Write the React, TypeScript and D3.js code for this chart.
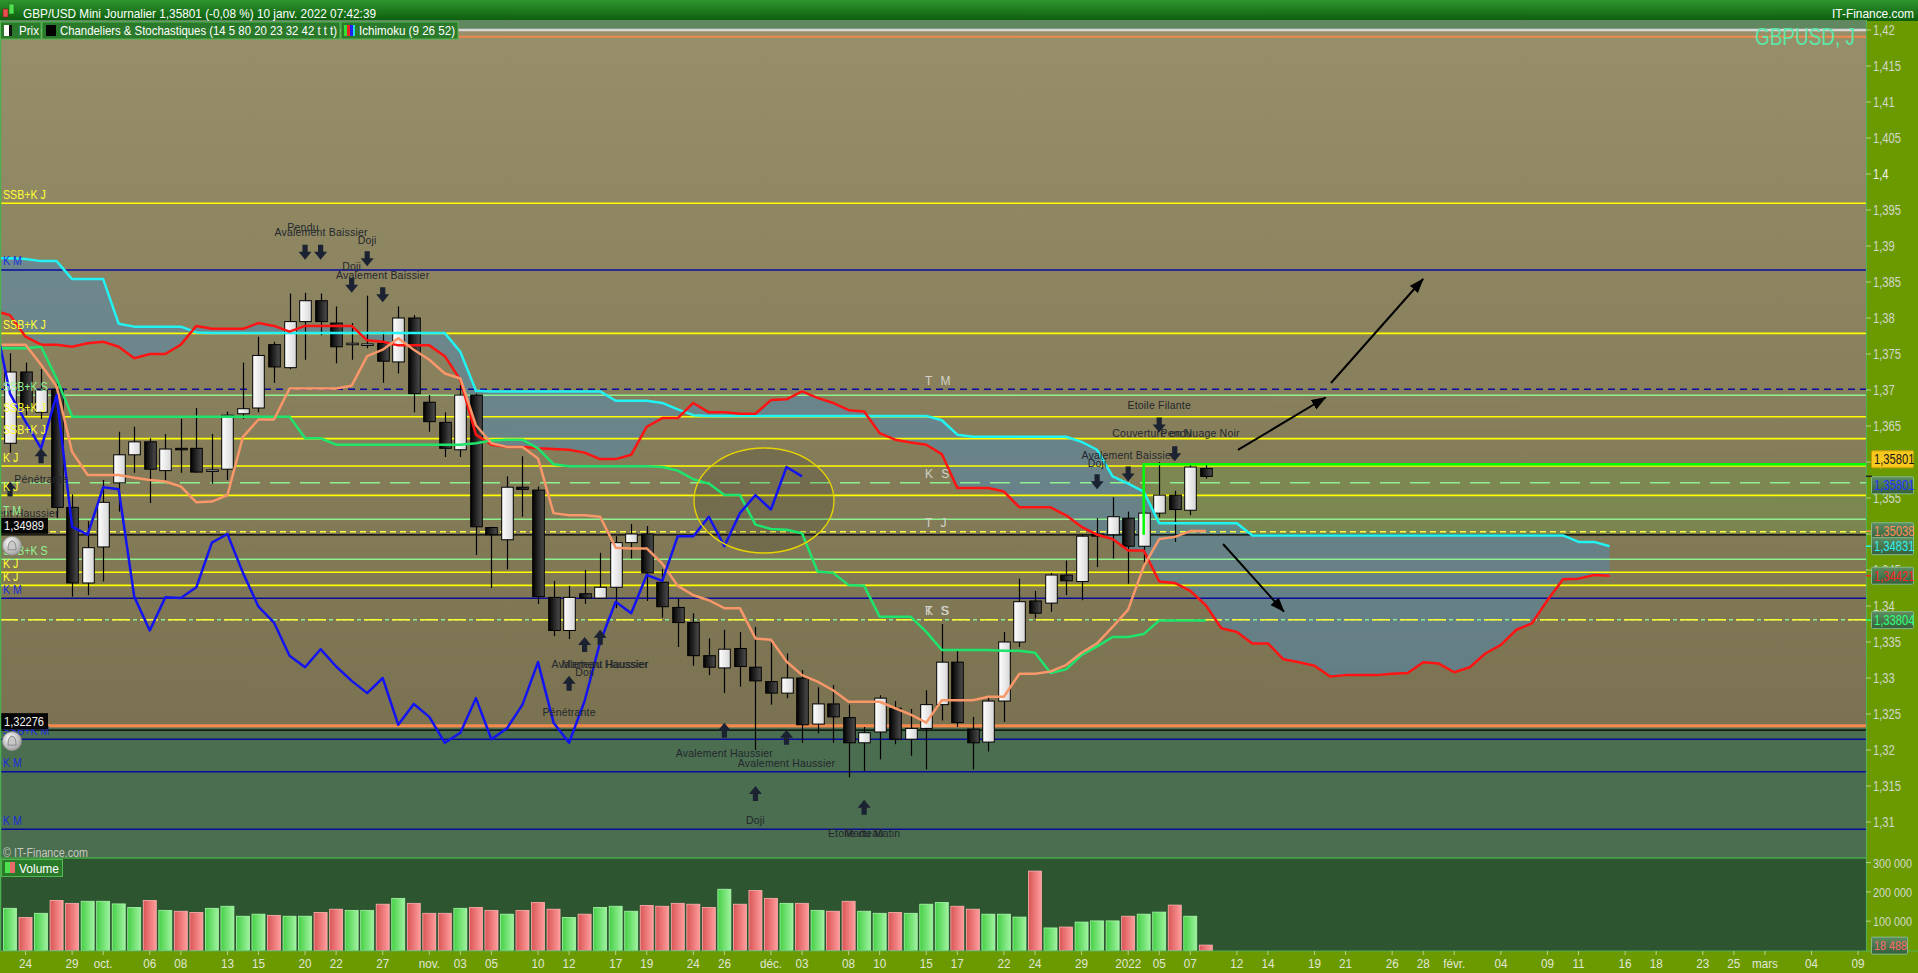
import React from 'react';
import * as d3 from 'd3';

// ---------------- DATA ----------------
// trading-day index 0 = 2021-09-23 ; last candle index 77 = 2022-01-10
const candleOpen = [1.3626,1.3725,1.3669,1.3701,1.3537,1.3432,1.3482,1.3571,1.3610,1.3628,
 1.3588,1.3619,1.3619,1.3587,1.3590,1.3667,1.3675,1.3763,1.3731,1.3795,
 1.3824,1.3793,1.3764,1.3762,1.3765,1.3739,1.3800,1.3683,1.3655,1.3617,
 1.3693,1.3509,1.3492,1.3565,1.3561,1.3412,1.3366,1.3417,1.3411,1.3426,
 1.3488,1.3500,1.3433,1.3398,1.3377,1.3331,1.3314,1.3341,1.3315,1.3295,
 1.3279,1.3300,1.3236,1.3264,1.3245,1.3210,1.3225,1.3258,1.3215,1.3230,
 1.3263,1.3322,1.3229,1.3211,1.3268,1.3350,1.3407,1.3404,1.3443,1.3434,
 1.3500,1.3499,1.3522,1.3483,1.3529,1.3554,1.3533,1.3591];
const candleHigh = [1.3751,1.3738,1.3729,1.3714,1.3555,1.3518,1.3575,1.3642,1.3649,1.3633,
 1.3639,1.3660,1.3675,1.3639,1.3670,1.3738,1.3774,1.3767,1.3834,1.3835,
 1.3834,1.3816,1.3793,1.3831,1.3781,1.3816,1.3804,1.3693,1.3669,1.3707,
 1.3695,1.3510,1.3580,1.3608,1.3566,1.3435,1.3428,1.3450,1.3474,1.3497,
 1.3514,1.3511,1.3451,1.3411,1.3390,1.3355,1.3367,1.3364,1.3371,1.3352,
 1.3334,1.3311,1.3287,1.3290,1.3263,1.3232,1.3276,1.3268,1.3257,1.3283,
 1.3375,1.3340,1.3246,1.3275,1.3364,1.3438,1.3421,1.3446,1.3463,1.3500,
 1.3522,1.3551,1.3531,1.3533,1.3600,1.3560,1.3596,1.3596];
const candleLow = [1.3613,1.3665,1.3660,1.3522,1.3413,1.3415,1.3434,1.3531,1.3585,1.3543,
 1.3573,1.3585,1.3585,1.3570,1.3575,1.3660,1.3669,1.3710,1.3729,1.3742,
 1.3776,1.3737,1.3742,1.3758,1.3710,1.3723,1.3669,1.3642,1.3607,1.3607,
 1.3471,1.3425,1.3451,1.3524,1.3403,1.3358,1.3354,1.3403,1.3410,1.3397,
 1.3466,1.3407,1.3384,1.3343,1.3317,1.3304,1.3279,1.3288,1.3200,1.3263,
 1.3272,1.3210,1.3223,1.3210,1.3162,1.3171,1.3187,1.3208,1.3192,1.3173,
 1.3241,1.3232,1.3173,1.3198,1.3239,1.3343,1.3383,1.3392,1.3415,1.3408,
 1.3454,1.3466,1.3431,1.3460,1.3523,1.3489,1.3526,1.3577];
const candleClose = [1.3725,1.3675,1.3700,1.3537,1.3432,1.3481,1.3544,1.3610,1.3628,1.3590,
 1.3618,1.3617,1.3586,1.3589,1.3665,1.3674,1.3748,1.3732,1.3795,1.3824,
 1.3795,1.3760,1.3765,1.3764,1.3740,1.3800,1.3695,1.3656,1.3619,1.3693,
 1.3510,1.3499,1.3565,1.3562,1.3413,1.3366,1.3412,1.3411,1.3426,1.3488,
 1.3500,1.3446,1.3399,1.3377,1.3331,1.3315,1.3340,1.3316,1.3296,1.3279,
 1.3300,1.3235,1.3264,1.3246,1.3210,1.3224,1.3272,1.3215,1.3230,1.3263,
 1.3322,1.3238,1.3210,1.3268,1.3350,1.3406,1.3390,1.3443,1.3435,1.3497,
 1.3497,1.3524,1.3483,1.3529,1.3554,1.3534,1.3593,1.3580];
const volumes = [144000,113000,127000,171000,161000,168000,168000,159000,147000,171000,
 137000,134000,130000,144000,151000,117000,124000,120000,117000,117000,
 130000,141000,137000,137000,158000,178000,161000,127000,127000,144000,
 147000,137000,124000,137000,164000,141000,113000,124000,147000,151000,
 134000,154000,151000,161000,158000,147000,209000,158000,205000,178000,
 161000,161000,137000,134000,168000,134000,127000,130000,127000,158000,
 164000,151000,141000,124000,124000,114000,271000,77000,80000,97000,
 101000,101000,117000,124000,131000,155000,117000,18488];
const volumeUp = [1,0,1,0,0,1,1,1,1,0,
 1,0,0,1,1,1,1,0,1,1,
 0,0,1,1,0,1,0,0,0,1,
 0,0,1,0,0,0,1,0,1,1,
 1,0,0,0,0,0,1,0,0,0,
 1,0,1,0,0,1,1,0,1,1,
 1,0,0,1,1,1,0,1,0,1,
 1,1,0,1,1,0,1,0];
// Ichimoku lines, first value at index -1
const tenkan = [1.3763,1.3763,1.3763,1.3735,1.3705,1.3614,1.3582,1.3582,1.3582,1.3578,
 1.3575,1.3573,1.3566,1.3544,1.3545,1.3554,1.3635,1.3659,1.3659,1.3702,
 1.3702,1.3702,1.3702,1.3706,1.3747,1.3756,1.3772,1.3756,1.3742,1.3723,
 1.3716,1.3651,1.3626,1.3621,1.3621,1.3605,1.3529,1.3526,1.3526,1.3524,
 1.3481,1.3480,1.3480,1.3459,1.3428,1.3415,1.3408,1.3397,1.3397,1.3355,
 1.3353,1.3323,1.3304,1.3295,1.3283,1.3267,1.3267,1.3267,1.3258,1.3249,
 1.3238,1.3269,1.3269,1.3269,1.3274,1.3274,1.3306,1.3306,1.3309,1.3318,
 1.3335,1.3348,1.3371,1.3395,1.3455,1.3493,1.3496,1.3504,1.3504];
const kijun = [1.3758,1.3758,1.3758,1.3760,1.3716,1.3663,1.3663,1.3663,1.3663,1.3663,
 1.3663,1.3663,1.3663,1.3663,1.3663,1.3663,1.3663,1.3663,1.3663,1.3663,
 1.3633,1.3633,1.3624,1.3624,1.3624,1.3624,1.3624,1.3624,1.3624,1.3624,
 1.3624,1.3626,1.3630,1.3631,1.3631,1.3619,1.3597,1.3594,1.3594,1.3594,
 1.3594,1.3594,1.3594,1.3593,1.3588,1.3576,1.3570,1.3554,1.3554,1.3513,
 1.3507,1.3506,1.3501,1.3448,1.3446,1.3429,1.3428,1.3385,1.3385,1.3385,
 1.3364,1.3339,1.3339,1.3339,1.3339,1.3338,1.3338,1.3335,1.3307,1.3312,
 1.3332,1.3344,1.3357,1.3357,1.3361,1.3380,1.3380,1.3380,1.3380];
const senkouA = [1.3810,1.3804,1.3774,1.3763,1.3763,1.3760,1.3765,1.3767,1.3760,1.3744,
 1.3750,1.3750,1.3763,1.3789,1.3785,1.3785,1.3785,1.3793,1.3789,1.3781,
 1.3789,1.3789,1.3789,1.3789,1.3769,1.3767,1.3762,1.3762,1.3762,1.3747,
 1.3714,1.3638,1.3624,1.3621,1.3621,1.3619,1.3618,1.3617,1.3613,1.3604,
 1.3604,1.3610,1.3649,1.3661,1.3661,1.3682,1.3669,1.3669,1.3667,1.3667,
 1.3686,1.3687,1.3698,1.3689,1.3682,1.3672,1.3670,1.3640,1.3631,1.3627,
 1.3624,1.3611,1.3564,1.3564,1.3564,1.3559,1.3537,1.3537,1.3537,1.3526,
 1.3510,1.3499,1.3493,1.3477,1.3477,1.3434,1.3432,1.3421,1.3401,1.3369,
 1.3364,1.3348,1.3348,1.3326,1.3322,1.3317,1.3302,1.3304,1.3304,1.3304,
 1.3306,1.3307,1.3322,1.3320,1.3308,1.3315,1.3334,1.3346,1.3367,1.3376,
 1.3408,1.3437,1.3438,1.3443,1.3442];
const senkouB = [1.3883,1.3883,1.3882,1.3879,1.3879,1.3854,1.3854,1.3854,1.3792,1.3788,
 1.3788,1.3788,1.3788,1.3780,1.3779,1.3779,1.3779,1.3779,1.3779,1.3779,
 1.3779,1.3779,1.3779,1.3779,1.3779,1.3779,1.3779,1.3779,1.3779,1.3779,
 1.3753,1.3699,1.3698,1.3698,1.3698,1.3698,1.3698,1.3698,1.3698,1.3698,
 1.3685,1.3685,1.3685,1.3682,1.3673,1.3665,1.3664,1.3664,1.3664,1.3664,
 1.3664,1.3664,1.3664,1.3664,1.3664,1.3664,1.3664,1.3664,1.3664,1.3664,
 1.3664,1.3658,1.3638,1.3635,1.3635,1.3635,1.3635,1.3635,1.3635,1.3635,
 1.3628,1.3617,1.3580,1.3570,1.3559,1.3515,1.3515,1.3515,1.3515,1.3515,
 1.3515,1.3498,1.3498,1.3498,1.3498,1.3498,1.3498,1.3498,1.3498,1.3498,
 1.3498,1.3498,1.3498,1.3498,1.3498,1.3498,1.3498,1.3498,1.3498,1.3498,
 1.3498,1.3498,1.3489,1.3489,1.3483];

// horizontal levels
const levelPrices = [1.39593,1.38667,1.37787,1.3701,1.36926,1.36629,1.36324,1.35944,1.35713,1.35537,1.35204,1.35032,1.34989,1.34649,1.34468,1.34287,1.34107,1.3381,1.32338,1.32276,1.32149,1.31699,1.30899];
const levelKinds = ['Y','N','Y','Nd','G','Y','Y','Y','Gd','Y','G','Yd','B','G','Y','Y','N','K','O','B','N','N','N'];
const levelLeftLabels = ['SSB+K J','K M','SSB+K J','','SSB+K S','SSB+K J','SSB+K J','K J','','K J','T M','','','SSB+K S','K J','K J','K M','','','','SSB+K M','K M','K M'];
const levelMidLabels = ['','','','T M','','','','','K S','','','T J','','','','','','K S','','','','',''];
const levelTags = ['','','','','','','','','','','','','1,34989','','','','','','','1,32276','','',''];

// date axis
const tickDates = ['2021-09-24','2021-09-29','2021-10-01','2021-10-06','2021-10-08','2021-10-13','2021-10-15','2021-10-20','2021-10-22','2021-10-27','2021-11-01','2021-11-03','2021-11-05','2021-11-10','2021-11-12','2021-11-17','2021-11-19','2021-11-24','2021-11-26','2021-12-01','2021-12-03','2021-12-08','2021-12-10','2021-12-15','2021-12-17','2021-12-22','2021-12-24','2021-12-29','2022-01-03','2022-01-05','2022-01-07','2022-01-12','2022-01-14','2022-01-19','2022-01-21','2022-01-26','2022-01-28','2022-02-01','2022-02-04','2022-02-09','2022-02-11','2022-02-16','2022-02-18','2022-02-23','2022-02-25','2022-03-01','2022-03-04','2022-03-09'];
const tickLabels = ['24','29','oct.','06','08','13','15','20','22','27','nov.','03','05','10','12','17','19','24','26','déc.','03','08','10','15','17','22','24','29','2022','05','07','12','14','19','21','26','28','févr.','04','09','11','16','18','23','25','mars','04','09'];
const priceTicks = [1.42,1.415,1.41,1.405,1.4,1.395,1.39,1.385,1.38,1.375,1.37,1.365,1.36,1.355,1.35,1.345,1.34,1.335,1.33,1.325,1.32,1.315,1.31];
const volumeTicks = [100000,200000,300000];

// pattern annotations
const arrowIdx = [19,20,23,22,24,70,72,74,75,0,2,36,37,38,46,50,48,55];
const arrowDir = ['d','d','d','d','d','d','d','d','d','u','u','u','u','u','u','u','u','u'];
const arrowTip = [1.3881,1.3881,1.3872,1.3835,1.3822,1.3562,1.3573,1.3641,1.3601,1.3573,1.3619,1.3303,1.3357,1.3367,1.3238,1.3228,1.3150,1.3131];
const noteText = ['Pendu','Avalement Baissier','Doji','Doji','Avalement Baissier','Doji','Avalement Baissier','Etoile Filante','Couverture en Nuage Noir','Pendu','Avalement Haussier','Pénétrante','Pénétrante','Avalement Haussier','Marteau Haussier','Doji','Avalement Haussier','Avalement Haussier','Doji','Etoile du Matin','Marteau'];
const noteIdx = [18.87,20.03,23,22,24,70,72,74,75.08,75.1,0,2,36,38,38.3,37,46,50,48,55,55];
const notePrice = [1.3926,1.3919,1.3908,1.3872,1.3860,1.3599,1.3610,1.3679,1.3640,1.3640,1.3529,1.3576,1.3253,1.3319,1.3319,1.3309,1.3196,1.3182,1.3103,1.3085,1.3085];

// trend arrows drawn on the chart [fromIdx, fromPrice, toIdx, toPrice]
const trendFromIdx = [85.06,79.07,78.11];
const trendFromPrice = [1.37097,1.36167,1.34861];
const trendToIdx = [90.99,84.71,82.03];
const trendToPrice = [1.38542,1.36896,1.33922];

// right axis value boxes
const boxValues = [1.35801,1.35801,1.35038,1.34831,1.34421,1.33804];
const boxTexts = ['1,35801','1,35801','1,35038','1,34831','1,34421','1,33804'];
const boxColors = ['#1a1a1a','#2333ff','#ff8c5a','#2ff0f0','#ff2222','#33ff77'];
const lastVolumeText = '18 488';

// ---------------- RENDER ----------------
const FONT = "'Liberation Sans', Arial, sans-serif";

function T(props: any) {
  const { x, y, sx = 1, size = 12, fill = '#fff', anchor = 'start', children, weight, ls, len } = props;
  return (
    <text transform={`translate(${x},${y}) scale(${sx},1)`} fontSize={size} fill={fill} textAnchor={anchor}
      fontFamily={FONT} fontWeight={weight} letterSpacing={ls} textLength={len} lengthAdjust={len ? 'spacingAndGlyphs' : undefined}>
      {children}
    </text>
  );
}

function dayIndex(iso: string) {
  const [yy, mm, dd] = iso.split('-').map(Number);
  const target = Date.UTC(yy, mm - 1, dd);
  const d = new Date(Date.UTC(2021, 8, 23));
  let n = 0;
  while (d.getTime() < target) {
    d.setUTCDate(d.getUTCDate() + 1);
    const wd = d.getUTCDay();
    if (wd !== 0 && wd !== 6) n++;
  }
  return n;
}

export default function App() {
  const W = 1918, H = 973, PR = 1866;
  const x = d3.scaleLinear().domain([0, 119]).range([10, 10 + 119 * 15.53]);
  const y = d3.scaleLinear().domain([1.31, 1.42]).range([822, 30]);
  const vy = d3.scaleLinear().domain([0, 100000]).range([950.5, 921.2]);
  const loc = d3.formatLocale({ decimal: ',', thousands: '\u00a0', grouping: [3], currency: ['', ''] });
  const fmtPrice = loc.format('.4~r');
  const fmtVol = loc.format(',');

  const lineFrom = (start: number) => d3.line<number>().x((_, k) => x(k + start)).y(d => y(d));
  const cloud = d3.area<number>().x((_, k) => x(k - 1)).y0(d => y(d)).y1((_, k) => y(senkouB[k]));
  const chikou = candleClose.slice(25);

  const styles: any = {
    Y: { s: '#ffff00', w: 1.6, lab: '#ffff33' },
    N: { s: '#0a0a9c', w: 1.5, lab: '#1c2ed8' },
    Nd: { s: '#0a0a9c', w: 1.5, d: '7 5', lab: '#1c2ed8' },
    G: { s: '#8ff08f', w: 1.5, lab: '#94f294' },
    Gd: { s: '#8ff08f', w: 1.5, d: '20 10', lab: '#94f294' },
    Yd: { s: '#ffff40', w: 1.5, d: '6 4', lab: '#ffff33' },
    B: { s: '#000000', w: 1.3, lab: '#000' },
    K: { s: '#8ff08f', w: 1.6, d: '4 3', lab: '#94f294' },
    O: { s: '#f28a4e', w: 3, lab: '#f28a4e' },
  };

  const downArrow = (cx: number, t: number) =>
    `M${cx - 2.6},${t - 15} L${cx + 2.6},${t - 15} L${cx + 2.6},${t - 8} L${cx + 6.5},${t - 8} L${cx},${t} L${cx - 6.5},${t - 8} L${cx - 2.6},${t - 8} Z`;
  const upArrow = (cx: number, t: number) =>
    `M${cx},${t} L${cx + 6.5},${t + 8} L${cx + 2.6},${t + 8} L${cx + 2.6},${t + 15} L${cx - 2.6},${t + 15} L${cx - 2.6},${t + 8} L${cx - 6.5},${t + 8} Z`;

  const rectTop = y(1.3597), rectBot = y(1.34989), rectX = x(73);
  const boxY = [y(boxValues[0]) - 17, y(boxValues[1]) + 9, y(boxValues[2]), y(boxValues[3]), y(boxValues[4]), y(boxValues[5])];

  return (
    <svg width={W} height={H} style={{ position: 'fixed', left: 0, top: 0, display: 'block' }} fontFamily={FONT}>
      <defs>
        <linearGradient id="bgGrad" x1="0" y1="0" x2="0" y2="1">
          <stop offset="0" stopColor="#978f69" />
          <stop offset="1" stopColor="#7a7250" />
        </linearGradient>
        <linearGradient id="hdr" x1="0" y1="0" x2="0" y2="1">
          <stop offset="0" stopColor="#2f952f" />
          <stop offset="1" stopColor="#0c5d0c" />
        </linearGradient>
        <linearGradient id="gWhite" x1="0" y1="0" x2="1" y2="0">
          <stop offset="0" stopColor="#ffffff" />
          <stop offset="1" stopColor="#d6d6d6" />
        </linearGradient>
        <linearGradient id="gBlack" x1="0" y1="0" x2="1" y2="0">
          <stop offset="0" stopColor="#020202" />
          <stop offset="1" stopColor="#4e4e4e" />
        </linearGradient>
        <linearGradient id="gVolUp" x1="0" y1="0" x2="1" y2="0">
          <stop offset="0" stopColor="#46d046" />
          <stop offset="1" stopColor="#9ff29f" />
        </linearGradient>
        <linearGradient id="gVolDn" x1="0" y1="0" x2="1" y2="0">
          <stop offset="0" stopColor="#d95656" />
          <stop offset="1" stopColor="#ff9c9c" />
        </linearGradient>
        <linearGradient id="gBox" x1="0" y1="0" x2="0" y2="1">
          <stop offset="0" stopColor="#5d8d62" />
          <stop offset="1" stopColor="#345f3b" />
        </linearGradient>
        <radialGradient id="gBell" cx="0.4" cy="0.35" r="0.7">
          <stop offset="0" stopColor="#ffffff" />
          <stop offset="1" stopColor="#9a9a9a" />
        </radialGradient>
        <marker id="ah" markerUnits="userSpaceOnUse" markerWidth="16" markerHeight="12" refX="14" refY="5.5" orient="auto">
          <path d="M0,0 L15,5.5 L0,11 Z" fill="#000" />
        </marker>
        <clipPath id="plotClip"><rect x={0} y={20} width={PR} height={838} /></clipPath>
        <clipPath id="volClip"><rect x={0} y={858} width={PR} height={93} /></clipPath>
      </defs>

      {/* base */}
      <rect x={0} y={0} width={W} height={H} fill="#6a9a00" />
      <rect x={0} y={0} width={W} height={21} fill="url(#hdr)" />

      <g clipPath="url(#plotClip)">
        <rect x={0} y={20} width={PR} height={10} fill="#60875f" />
        <rect x={0} y={30} width={PR} height={698} fill="url(#bgGrad)" />
        <rect x={0} y={728} width={PR} height={130} fill="#4b6e50" />

        {/* tinted zone */}
        <rect x={rectX} y={rectTop} width={PR - rectX} height={rectBot - rectTop} fill="rgba(80,210,40,0.13)" />

        {/* cloud */}
        <path d={cloud(senkouA) || ''} fill="rgba(70,140,195,0.45)" />

        {/* top lines */}
        <line x1={0} x2={PR} y1={y(1.42)} y2={y(1.42)} stroke="#d6d6d6" strokeWidth={2.5} />
        <line x1={0} x2={PR} y1={y(1.41907)} y2={y(1.41907)} stroke="#f0884c" strokeWidth={2} />

        {/* levels */}
        {levelPrices.map((p, k) => {
          const st = styles[levelKinds[k]];
          const yy = y(p);
          if (levelKinds[k] === 'K') {
            return (
              <g key={k}>
                <line x1={0} x2={PR} y1={yy} y2={yy} stroke="#8ff08f" strokeWidth={1.5} strokeDasharray="4 3" />
                <line x1={0} x2={PR} y1={yy} y2={yy} stroke="#ffff30" strokeWidth={1.6} strokeDasharray="18 10" />
              </g>
            );
          }
          return <line key={k} x1={0} x2={PR} y1={yy} y2={yy} stroke={st.s} strokeWidth={st.w} strokeDasharray={st.d} />;
        })}

        {/* ellipse */}
        <ellipse cx={x(48.55)} cy={y(1.35465)} rx={70} ry={52.5} fill="rgba(0,0,0,0.12)" />

        {/* candles */}
        {candleOpen.map((o, i) => {
          const c = candleClose[i];
          const up = c >= o;
          const cx = Math.round(x(i)) + 0.5;
          const top = y(Math.max(o, c));
          const bh = Math.max(1.5, y(Math.min(o, c)) - top);
          return (
            <g key={i}>
              <line x1={cx} x2={cx} y1={y(candleHigh[i])} y2={y(candleLow[i])} stroke="#000" strokeWidth={1.2} />
              <rect x={cx - 5.8} y={top} width={11.6} height={bh} fill={up ? 'url(#gWhite)' : 'url(#gBlack)'} stroke="#000" strokeWidth={1} />
            </g>
          );
        })}

        {/* ichimoku lines */}
        <path d={lineFrom(-1)(senkouB) || ''} fill="none" stroke="#22f2f2" strokeWidth={2.5} strokeLinejoin="round" />
        <path d={lineFrom(-1)(senkouA) || ''} fill="none" stroke="#ff1414" strokeWidth={2.5} strokeLinejoin="round" />
        <path d={lineFrom(-1)(kijun) || ''} fill="none" stroke="#1ee46c" strokeWidth={2.5} strokeLinejoin="round" />
        <path d={lineFrom(-1)(tenkan) || ''} fill="none" stroke="#f7976a" strokeWidth={2.5} strokeLinejoin="round" />
        <path d={lineFrom(-1)(chikou) || ''} fill="none" stroke="#1414f0" strokeWidth={2.5} strokeLinejoin="round" />

        <ellipse cx={x(48.55)} cy={y(1.35465)} rx={70} ry={52.5} fill="none" stroke="#e6d400" strokeWidth={1.3} />

        {/* tinted zone border */}
        <path d={`M${rectX},${rectBot} L${rectX},${rectTop} L${PR},${rectTop}`} fill="none" stroke="#00ff00" strokeWidth={2.5} />

        {/* pattern arrows */}
        {arrowIdx.map((i, k) => (
          <path key={k} d={arrowDir[k] === 'd' ? downArrow(x(i), y(arrowTip[k])) : upArrow(x(i), y(arrowTip[k]))} fill="#1b2232" />
        ))}
        {noteText.map((t, k) => (
          <T key={k} x={x(noteIdx[k])} y={y(notePrice[k]) + 4} size={10.5} fill="#23272e" anchor="middle" ls={0.2}>{t}</T>
        ))}

        {/* left level labels */}
        {levelPrices.map((p, k) => levelLeftLabels[k] ? (
          <T key={'l' + k} x={3} y={y(p) - 4.5} size={12.5} sx={0.85} fill={styles[levelKinds[k]].lab}>{levelLeftLabels[k]}</T>
        ) : null)}
        {levelPrices.map((p, k) => levelMidLabels[k] ? (
          <T key={'m' + k} x={925} y={y(p) - 4.5} size={12} fill="#d2d2ca" ls={2.5}>{levelMidLabels[k]}</T>
        ) : null)}
        <T x={925} y={y(1.3381) - 4.5} size={12} fill="#d2d2ca" ls={2.5}>T S</T>
        {levelPrices.map((p, k) => levelTags[k] ? (
          <g key={'t' + k}>
            <rect x={1} y={y(p) - 17} width={47} height={16} fill="#050505" />
            <T x={4} y={y(p) - 4.5} size={13} fill="#f2f2f2" len={40}>{levelTags[k]}</T>
            <circle cx={12} cy={y(p) + 11} r={9.5} fill="url(#gBell)" stroke="#8a8a8a" strokeWidth={0.8} />
            <path d={`M${8},${y(p) + 15} Q${8},${y(p) + 6} ${12},${y(p) + 6} Q${16},${y(p) + 6} ${16},${y(p) + 15} Z`} fill="#c8c8c8" stroke="#7a7a7a" strokeWidth={0.8} />
          </g>
        ) : null)}

        {/* trend arrows */}
        {trendFromIdx.map((fi, k) => (
          <line key={k} x1={x(fi)} y1={y(trendFromPrice[k])} x2={x(trendToIdx[k])} y2={y(trendToPrice[k])} stroke="#000" strokeWidth={2} markerEnd="url(#ah)" />
        ))}

        <T x={1855} y={45} size={24} fill="#5ce6a8" anchor="end" len={100}>GBPUSD, J</T>
        <T x={3} y={856.5} size={12} fill="#c4c8bf" len={85}>© IT-Finance.com</T>
      </g>

      {/* volume panel */}
      <rect x={0} y={858} width={PR} height={93} fill="#2c5530" />
      <g clipPath="url(#volClip)">
        {volumes.map((v, i) => (
          <rect key={i} x={x(i) - 6.5} y={vy(v)} width={13} height={vy(0) - vy(v)} fill={volumeUp[i] ? 'url(#gVolUp)' : 'url(#gVolDn)'}
            stroke={volumeUp[i] ? '#a8f7a8' : '#ffb0b0'} strokeWidth={0.8} />
        ))}
      </g>
      <line x1={0} x2={PR} y1={858} y2={858} stroke="#45a845" strokeWidth={1.5} />
      <rect x={1.5} y={859.5} width={61} height={17} fill="#2b7a2b" stroke="#52b852" strokeWidth={1} />
      <rect x={5} y={862} width={5} height={11} fill="#4ee04e" />
      <rect x={10} y={862} width={5} height={11} fill="#e86a6a" />
      <T x={19} y={872.5} size={13} fill="#ffffff" len={40}>Volume</T>

      {/* plot borders */}
      <line x1={0.5} x2={0.5} y1={20} y2={951} stroke="#4caf50" strokeWidth={1.5} />
      <line x1={PR + 0.5} x2={PR + 0.5} y1={20} y2={951} stroke="#52b052" strokeWidth={1.2} />
      <line x1={0} x2={W} y1={951} y2={951} stroke="#52b052" strokeWidth={1.2} />

      {/* price axis */}
      {priceTicks.map((p, k) => (
        <g key={k}>
          <line x1={PR} x2={PR + 5} y1={y(p)} y2={y(p)} stroke="#b8d08a" strokeWidth={1} />
          <T x={1873} y={y(p) + 5} size={14} sx={0.8} fill={p === 1.4 ? '#f0f0ea' : '#d3d9c8'}>{fmtPrice(p)}</T>
        </g>
      ))}
      {volumeTicks.map((v, k) => (
        <g key={'v' + k}>
          <line x1={PR} x2={PR + 5} y1={vy(v)} y2={vy(v)} stroke="#b8d08a" strokeWidth={1} />
          <T x={1873} y={vy(v) + 5} size={13.5} sx={0.8} fill="#d3d9c8">{fmtVol(v)}</T>
        </g>
      ))}

      {/* value boxes */}
      <line x1={PR} x2={PR + 6} y1={y(boxValues[0])} y2={y(boxValues[0])} stroke="#222" strokeWidth={1.5} />
      {boxTexts.map((t, k) => (
        <g key={'b' + k}>
          {k >= 2 ? <line x1={PR} x2={PR + 6} y1={y(boxValues[k])} y2={y(boxValues[k])} stroke={boxColors[k]} strokeWidth={1.5} /> : null}
          <rect x={1871.5} y={boxY[k] - 8.5} width={42} height={17} rx={1} fill={k === 0 ? '#f7c81e' : 'url(#gBox)'} stroke={k === 0 ? '#c99f00' : '#86b88a'} strokeWidth={1} />
          <T x={1874} y={boxY[k] + 5} size={14} sx={0.8} fill={boxColors[k]}>{t}</T>
        </g>
      ))}
      <rect x={1871.5} y={vy(18488) - 8} width={36} height={17} rx={1} fill="url(#gBox)" stroke="#86b88a" strokeWidth={1} />
      <T x={1874} y={vy(18488) + 5} size={13.5} sx={0.8} fill="#ff6a6a">{lastVolumeText}</T>

      {/* date axis */}
      {tickDates.map((d, k) => {
        const xx = x(dayIndex(d));
        return (
          <g key={'d' + k}>
            <line x1={xx} x2={xx} y1={951} y2={955} stroke="#b8d08a" strokeWidth={1} />
            <T x={xx} y={968} size={13} sx={0.9} fill="#e0e6d3" anchor="middle">{tickLabels[k]}</T>
          </g>
        );
      })}

      {/* header */}
      <rect x={3} y={9} width={5} height={8} fill="#e85050" stroke="#7a1a1a" strokeWidth={0.6} />
      <rect x={9} y={4} width={5} height={10} fill="#50e050" stroke="#1a6a1a" strokeWidth={0.6} />
      <T x={23} y={17.5} size={13} fill="#ffffff" len={353}>GBP/USD Mini Journalier 1,35801 (-0,08 %) 10 janv. 2022 07:42:39</T>
      <T x={1914} y={17.5} size={13} fill="#ffffff" anchor="end" len={82}>IT-Finance.com</T>

      {/* legend row */}
      <rect x={0.5} y={22} width={40.5} height={17} fill="#2b7a2b" stroke="#52b852" strokeWidth={1} />
      <rect x={4} y={25} width={5} height={11} fill="#ffffff" />
      <rect x={9} y={25} width={3} height={11} fill="#111" />
      <T x={19} y={35} size={13} fill="#ffffff" len={20}>Prix</T>
      <rect x={42} y={22} width={298} height={17} fill="#2b7a2b" stroke="#52b852" strokeWidth={1} />
      <rect x={46} y={25} width={10} height={11} fill="#000" />
      <T x={60} y={35} size={13} fill="#ffffff" len={277}>Chandeliers &amp; Stochastiques (14 5 80 20 23 32 42 t t t)</T>
      <rect x={341} y={22} width={117} height={17} fill="#2b7a2b" stroke="#52b852" strokeWidth={1} />
      <rect x={344} y={25} width={3} height={11} fill="#33dd33" />
      <rect x={347} y={25} width={3} height={11} fill="#ee2222" />
      <rect x={350} y={25} width={3} height={11} fill="#2222ee" />
      <rect x={353} y={25} width={2} height={11} fill="#22dddd" />
      <T x={359} y={35} size={13} fill="#ffffff" len={96}>Ichimoku (9 26 52)</T>
    </svg>
  );
}
